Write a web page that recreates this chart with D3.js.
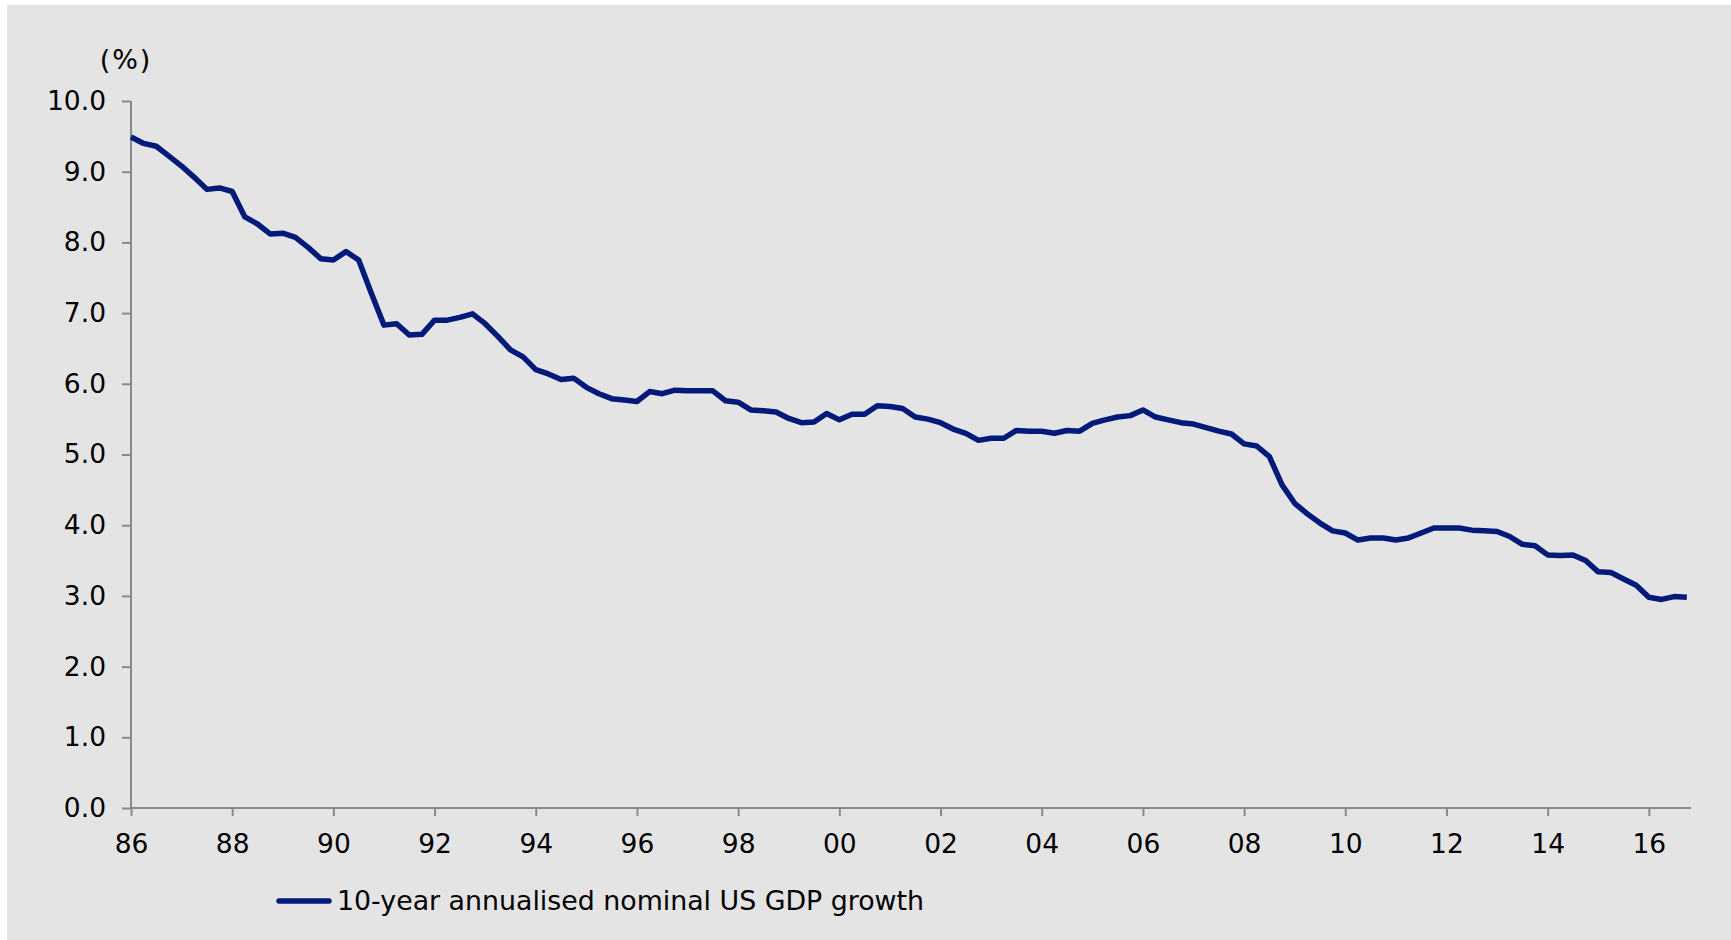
<!DOCTYPE html>
<html>
<head>
<meta charset="utf-8">
<script src="https://cdn.jsdelivr.net/npm/d3@7"></script>
<style>
  html, body { margin: 0; padding: 0; background: #ffffff; }
  svg { display: block; }
  text { font-family: "DejaVu Sans", Verdana, sans-serif; fill: #000; }
</style>
</head>
<body>
<svg id="chart" width="1731" height="940"></svg>
<script>
// ---- data (quarterly, 1986 Q1 – 2016 Q4) ----
const startYear = 1986;
const seriesName = "10-year annualised nominal US GDP growth";
const gdpGrowth = [
  9.49, 9.40, 9.36, 9.22, 9.08, 8.92, 8.75, 8.77,
  8.72, 8.36, 8.26, 8.12, 8.13, 8.07, 7.93, 7.77,
  7.75, 7.87, 7.75, 7.28, 6.83, 6.85, 6.69, 6.70,
  6.90, 6.90, 6.94, 6.99, 6.85, 6.67, 6.48, 6.38,
  6.20, 6.14, 6.06, 6.08, 5.95, 5.86, 5.79, 5.77,
  5.75, 5.89, 5.86, 5.91, 5.90, 5.90, 5.90, 5.76,
  5.74, 5.63, 5.62, 5.60, 5.51, 5.45, 5.46, 5.58,
  5.49, 5.57, 5.57, 5.69, 5.68, 5.65, 5.53, 5.50,
  5.45, 5.36, 5.30, 5.20, 5.23, 5.23, 5.34, 5.33,
  5.33, 5.30, 5.34, 5.33, 5.44, 5.49, 5.53, 5.55,
  5.63, 5.53, 5.49, 5.45, 5.43, 5.38, 5.33, 5.29,
  5.15, 5.12, 4.97, 4.57, 4.31, 4.16, 4.03, 3.92,
  3.89, 3.79, 3.82, 3.82, 3.79, 3.82, 3.89, 3.96,
  3.96, 3.96, 3.93, 3.92, 3.91, 3.84, 3.73, 3.71,
  3.58, 3.57, 3.58, 3.50, 3.34, 3.33, 3.24, 3.15,
  2.98, 2.95, 2.99, 2.98
];
const xTickYears = [1986, 1988, 1990, 1992, 1994, 1996, 1998, 2000, 2002, 2004, 2006, 2008, 2010, 2012, 2014, 2016];
const yTicks = [0, 1, 2, 3, 4, 5, 6, 7, 8, 9, 10];
const yUnit = "(%)";

// ---- layout ----
const svg = d3.select("#chart");
svg.append("rect").attr("x", 7).attr("y", 5).attr("width", 1724).attr("height", 935).attr("fill", "#e4e4e4");

const plot = { left: 131, right: 1691, top: 101, bottom: 808 };
const x = d3.scaleLinear().domain([1986, 2016.833]).range([plot.left, plot.right]);
const y = d3.scaleLinear().domain([0, 10]).range([plot.bottom, plot.top]);

const axisColor = "#898989";

// y axis
const yAxis = d3.axisLeft(y).tickValues(yTicks).tickFormat(d3.format(".1f")).tickSize(9).tickPadding(16);
const gy = svg.append("g").attr("transform", `translate(${plot.left},0)`).call(yAxis);
gy.select(".domain").remove();
gy.selectAll(".tick line").attr("stroke", axisColor).attr("stroke-width", 2);
gy.selectAll(".tick text").attr("font-size", 26.5).attr("font-family", "DejaVu Sans");
svg.append("line").attr("x1", plot.left).attr("x2", plot.left).attr("y1", y(10)).attr("y2", plot.bottom)
  .attr("stroke", axisColor).attr("stroke-width", 2);

// x axis
const xAxis = d3.axisBottom(x).tickValues(xTickYears).tickFormat(d => String(d % 100).padStart(2, "0")).tickSize(8).tickPadding(18);
const gx = svg.append("g").attr("transform", `translate(0,${plot.bottom})`).call(xAxis);
gx.select(".domain").remove();
gx.selectAll(".tick line").attr("stroke", axisColor).attr("stroke-width", 2);
gx.selectAll(".tick text").attr("font-size", 26.5).attr("font-family", "DejaVu Sans");
svg.append("line").attr("x1", plot.left).attr("x2", plot.right).attr("y1", plot.bottom).attr("y2", plot.bottom)
  .attr("stroke", axisColor).attr("stroke-width", 2);

// unit label
svg.append("text").attr("x", 126).attr("y", 69).attr("text-anchor", "middle").attr("font-size", 27)
  .attr("letter-spacing", 2).text(yUnit);

// line
const pts = gdpGrowth.map((v, i) => ({ t: startYear + i / 4, v }));
const line = d3.line().x(d => x(d.t)).y(d => y(d.v));
svg.append("path").datum(pts).attr("d", line).attr("fill", "none")
  .attr("stroke", "#001a7a").attr("stroke-width", 5.5).attr("stroke-linejoin", "round").attr("stroke-linecap", "butt");

// legend
const lg = svg.append("g");
lg.append("line").attr("x1", 279).attr("x2", 329).attr("y1", 901).attr("y2", 901)
  .attr("stroke", "#001a7a").attr("stroke-width", 5.5).attr("stroke-linecap", "round");
lg.append("text").attr("x", 337).attr("y", 910).attr("font-size", 26.8).text(seriesName);
</script>
</body>
</html>
